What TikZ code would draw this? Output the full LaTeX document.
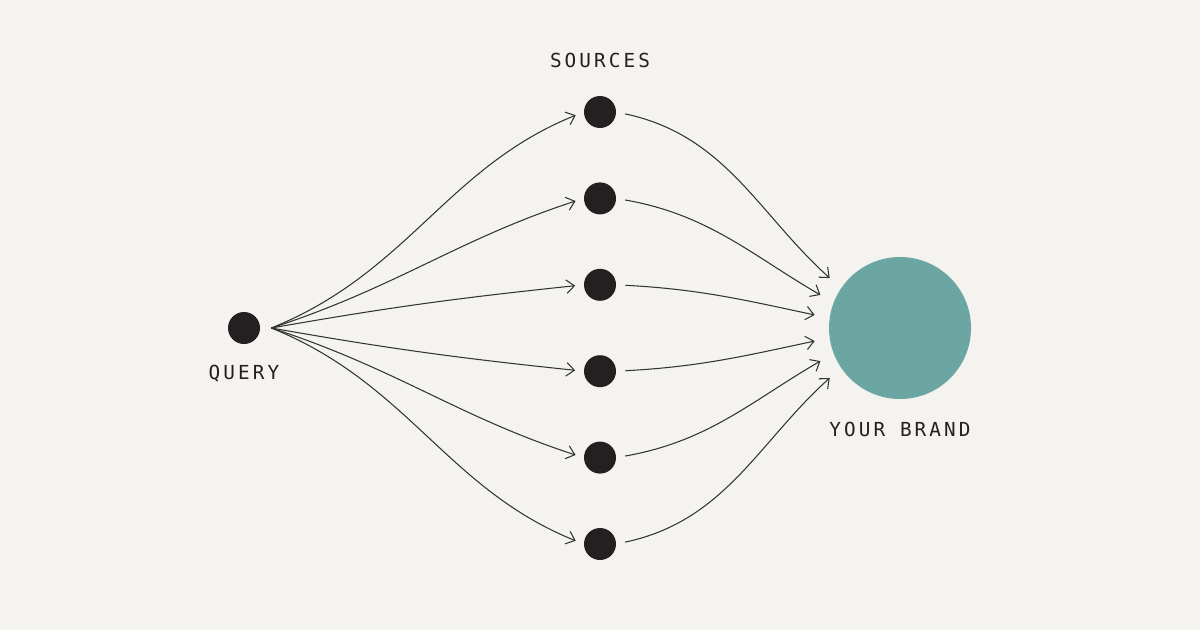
\documentclass[tikz,border=0pt]{standalone}
\usepackage{fontspec}
\usepackage{tikz}
\usetikzlibrary{arrows.meta,positioning}
\newfontfamily\capsfont[LetterSpace=16]{DejaVu Sans Mono}
\definecolor{paper}{HTML}{F4F3EF}
\definecolor{ink}{HTML}{222020}
\definecolor{brandteal}{HTML}{6CA6A3}
\definecolor{wire}{HTML}{333333}

\begin{document}
\begin{tikzpicture}[
   source/.style={circle,fill=ink,minimum size=0.64cm,inner sep=0pt},
   caption/.style={font=\capsfont\fontsize{11}{13}\selectfont,text=ink,inner sep=0pt},
   link/.style={-{Straight Barb[length=0.16cm,width=0.27cm]},line width=0.6pt,draw=wire},
   every node/.style={auto}]
\fill[paper] (0,0) rectangle (24,12.6);
\useasboundingbox (0,0) rectangle (24,12.6);
\node[source] (query) at (4.88,6.04) {};
\node[circle,fill=brandteal,minimum size=2.84cm,inner sep=0pt] (brand) at (18,6.04) {};
\foreach \i in {1,...,6}
  \node[source] (src\i) at (12,{10.36-(\i-1)*1.728}) {};
\node[caption] (sourcestitle) at (12,11.4) {SOURCES};
\node[caption] (querytitle) at (4.88,5.12) {QUERY};
\node[caption] (brandtitle) at (18,4.02) {YOUR BRAND};
\coordinate[right=0.22cm of query.east] (fan);
% query -> sources
\foreach \i/\o/\n in {1/22/202,2/18/198,3/10/186,4/-10/174,5/-18/162,6/-22/158}
  \draw[link,shorten >=0.17cm] (fan) to[out=\o,in=\n] (src\i.west);
% sources -> brand
\foreach \i/\a/\o/\n in {1/146/-12/138,2/159/-10/150,3/172/-3/168,4/188/3/192,5/201/10/210,6/214/12/222}
  \draw[link,shorten <=0.18cm,shorten >=0.3cm] (src\i.east) to[out=\o,in=\n] (brand.\a);
\end{tikzpicture}
\end{document}
